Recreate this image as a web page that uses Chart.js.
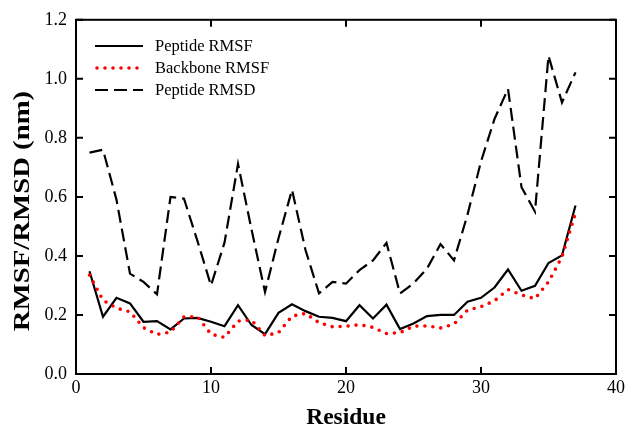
<!DOCTYPE html>
<html>
<head>
<meta charset="utf-8">
<script src="https://cdn.jsdelivr.net/npm/chart.js@4/dist/chart.umd.min.js"></script>
<style>
  html, body { margin: 0; padding: 0; background: #fff; }
  #wrap { width: 628px; height: 430px; }
</style>
</head>
<body>
<div id="wrap"><canvas id="c" width="628" height="430"></canvas></div>
<script>
const residues = [1,2,3,4,5,6,7,8,9,10,11,12,13,14,15,16,17,18,19,20,21,22,23,24,25,26,27,28,29,30,31,32,33,34,35,36,37];
const peptideRMSF = [0.348,0.194,0.258,0.239,0.177,0.179,0.151,0.188,0.190,0.177,0.162,0.233,0.166,0.135,0.207,0.236,0.213,0.194,0.190,0.179,0.233,0.188,0.235,0.152,0.171,0.196,0.200,0.200,0.245,0.258,0.293,0.354,0.282,0.299,0.376,0.402,0.571];
const backboneRMSF = [0.335,0.250,0.223,0.211,0.157,0.134,0.142,0.194,0.194,0.135,0.124,0.179,0.183,0.130,0.140,0.196,0.205,0.174,0.160,0.162,0.167,0.158,0.137,0.140,0.162,0.163,0.156,0.169,0.216,0.228,0.248,0.286,0.268,0.255,0.312,0.397,0.545];
const peptideRMSD = [0.750,0.760,0.590,0.340,0.312,0.270,0.600,0.594,0.450,0.300,0.445,0.712,0.490,0.278,0.460,0.624,0.420,0.273,0.312,0.306,0.352,0.385,0.444,0.273,0.307,0.357,0.440,0.385,0.540,0.720,0.864,0.966,0.633,0.550,1.078,0.920,1.022];
const seriesLabels = ['Peptide RMSF', 'Backbone RMSF', 'Peptide RMSD'];
const xTicks = [0, 10, 20, 30, 40];
const yTicks = [0.0, 0.2, 0.4, 0.6, 0.8, 1.0, 1.2];
const xTitle = 'Residue';
const yTitle = 'RMSF/RMSD (nm)';

const SERIF = "'Liberation Serif', 'Times New Roman', serif";

function pts(vals) { return residues.map((r, i) => ({ x: r, y: vals[i] })); }

const frameAndTicks = {
  id: 'frameAndTicks',
  afterDraw(chart) {
    const { ctx, chartArea: a, scales } = chart;
    ctx.save();
    ctx.strokeStyle = '#000';
    ctx.lineWidth = 2;
    ctx.lineCap = 'butt';
    ctx.strokeRect(a.left, a.top, a.right - a.left, a.bottom - a.top);
    const tl = 7;
    ctx.beginPath();
    xTicks.forEach(v => {
      const px = scales.x.getPixelForValue(v);
      ctx.moveTo(px, a.bottom); ctx.lineTo(px, a.bottom - tl);
      ctx.moveTo(px, a.top); ctx.lineTo(px, a.top + tl);
    });
    yTicks.forEach(v => {
      const py = scales.y.getPixelForValue(v);
      ctx.moveTo(a.left, py); ctx.lineTo(a.left + tl, py);
      ctx.moveTo(a.right, py); ctx.lineTo(a.right - tl, py);
    });
    ctx.stroke();
    // y axis title (slightly stretched along its length like the reference)
    ctx.translate(23, 211);
    ctx.rotate(-Math.PI / 2);
    ctx.scale(1.25, 1);
    ctx.fillStyle = '#000';
    ctx.font = 'bold 23px ' + SERIF;
    ctx.textAlign = 'center';
    ctx.textBaseline = 'middle';
    ctx.fillText(yTitle, 0, 0);
    ctx.restore();
  }
};

const insideLegend = {
  id: 'insideLegend',
  afterDraw(chart) {
    const { ctx } = chart;
    ctx.save();
    const x0 = 95, x1 = 143, tx = 155;
    const rows = [46, 68, 90];
    chart.data.datasets.forEach((ds, i) => {
      const y = rows[i];
      ctx.beginPath();
      ctx.strokeStyle = ds.borderColor;
      ctx.lineWidth = ds.borderWidth;
      ctx.lineCap = ds.borderCapStyle || 'butt';
      ctx.setLineDash(ds.borderDash || []);
      if (i === 1) { ctx.moveTo(x0 + 2, y); ctx.lineTo(x1 - 3, y); }
      else { ctx.moveTo(x0, y); ctx.lineTo(x1, y); }
      ctx.stroke();
      ctx.setLineDash([]);
      ctx.fillStyle = '#000';
      ctx.font = '16.5px ' + SERIF;
      ctx.textBaseline = 'middle';
      ctx.textAlign = 'left';
      ctx.fillText(ds.label, tx, y + 1);
    });
    ctx.restore();
  }
};

new Chart(document.getElementById('c'), {
  type: 'line',
  data: {
    datasets: [
      { label: seriesLabels[0], data: pts(peptideRMSF), borderColor: '#000', borderWidth: 2.2, pointRadius: 0, tension: 0, order: 2 },
      { label: seriesLabels[1], data: pts(backboneRMSF), borderColor: '#ff0000', borderWidth: 3.6, borderDash: [0, 8], borderCapStyle: 'round', pointRadius: 0, tension: 0, order: 1 },
      { label: seriesLabels[2], data: pts(peptideRMSD), borderColor: '#000', borderWidth: 2.2, borderDash: [13, 6], pointRadius: 0, tension: 0, order: 3 }
    ]
  },
  options: {
    responsive: false,
    animation: false,
    devicePixelRatio: 1,
    layout: { padding: { top: 19, right: 12, left: 0, bottom: 0 } },
    plugins: { legend: { display: false }, tooltip: { enabled: false } },
    scales: {
      x: {
        type: 'linear', min: 0, max: 40,
        afterBuildTicks: s => { s.ticks = xTicks.map(v => ({ value: v })); },
        afterFit: s => { s.height = 56; },
        grid: { display: false, drawTicks: false },
        border: { display: false },
        ticks: { color: '#000', font: { family: SERIF, size: 18 }, padding: 3, maxRotation: 0 },
        title: { display: true, text: xTitle, color: '#000', font: { family: SERIF, size: 23.5, weight: 'bold' }, padding: { top: 0, bottom: -2 } }
      },
      y: {
        min: 0, max: 1.2,
        afterBuildTicks: s => { s.ticks = yTicks.map(v => ({ value: v })); },
        afterFit: s => { s.width = 76; },
        grid: { display: false, drawTicks: false },
        border: { display: false },
        ticks: { color: '#000', font: { family: SERIF, size: 18 }, padding: 9, callback: v => Number(v).toFixed(1) },
        title: { display: false }
      }
    }
  },
  plugins: [frameAndTicks, insideLegend]
});
</script>
</body>
</html>
